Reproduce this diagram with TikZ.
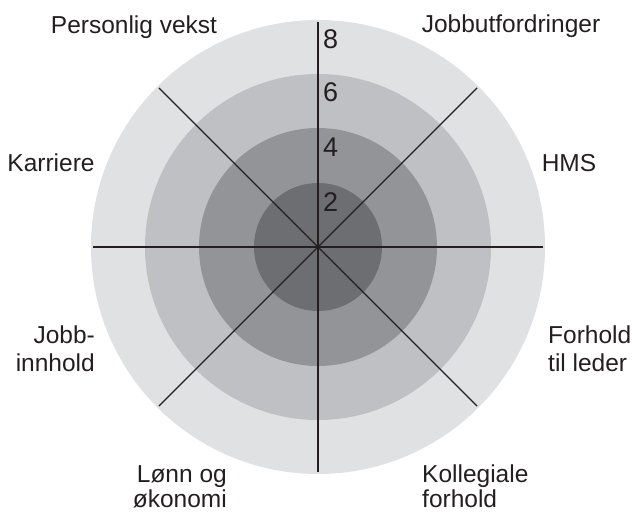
\documentclass[tikz,border=0pt]{standalone}
\usepackage{fontspec}
\setmainfont{Liberation Sans}
\usepackage{tikz}
\definecolor{ringA}{HTML}{E0E1E3}
\definecolor{ringB}{HTML}{BFC0C3}
\definecolor{ringC}{HTML}{939497}
\definecolor{ringD}{HTML}{6D6E71}
\definecolor{spoke}{HTML}{231F20}
\tikzset{every node/.style={inner sep=0pt, text=spoke, font=\fontsize{24.5}{28}\selectfont}}
\tikzset{tightlabel/.style={font=\fontsize{24.5}{25}\selectfont}}
\tikzset{scalelabel/.style={anchor=base west, font=\fontsize{27}{28}\selectfont}}
\tikzset{spokeline/.style={draw=spoke, line width=1.2pt}}

\begin{document}
\begin{tikzpicture}[x=1pt,y=1pt]
    \useasboundingbox (-318,-266) rectangle (314,247);
    \coordinate (centre) at (0,0);
    % rings, outside in
    \fill[ringA] (centre) circle (227);
    \fill[ringB] (centre) circle (173);
    \fill[ringC] (centre) circle (119);
    \fill[ringD] (centre) circle (64);
    % spokes
    \foreach \a in {0,45,...,315}
      \draw[spokeline] (centre) -- (\a:225) coordinate (tip\a);
    % scale
    \node[scalelabel] (eight) at (5,198) {8};
    \node[scalelabel] (six) at (5,145) {6};
    \node[scalelabel] (four) at (5,90) {4};
    \node[scalelabel] (two) at (5,35) {2};
    % labels
    \node[anchor=base] (vekst) at (-184,213) {Personlig vekst};
    \node[anchor=base] (utford) at (193,214) {Jobbutfordringer};
    \node[anchor=base] (hms) at (251,75) {HMS};
    \node[anchor=base] (karriere) at (-267,75) {Karriere};
    \node[anchor=north east, align=right] (innhold) at (-223,-79) {Jobb-\\innhold};
    \node[anchor=north east, align=right, tightlabel] (lonn) at (-91,-218) {Lønn og\\økonomi};
    \node[anchor=north west, align=left] (leder) at (230,-79) {Forhold\\til leder};
    \node[anchor=north west, align=left, tightlabel] (kolleg) at (104,-218) {Kollegiale\\forhold};
\end{tikzpicture}
\end{document}
